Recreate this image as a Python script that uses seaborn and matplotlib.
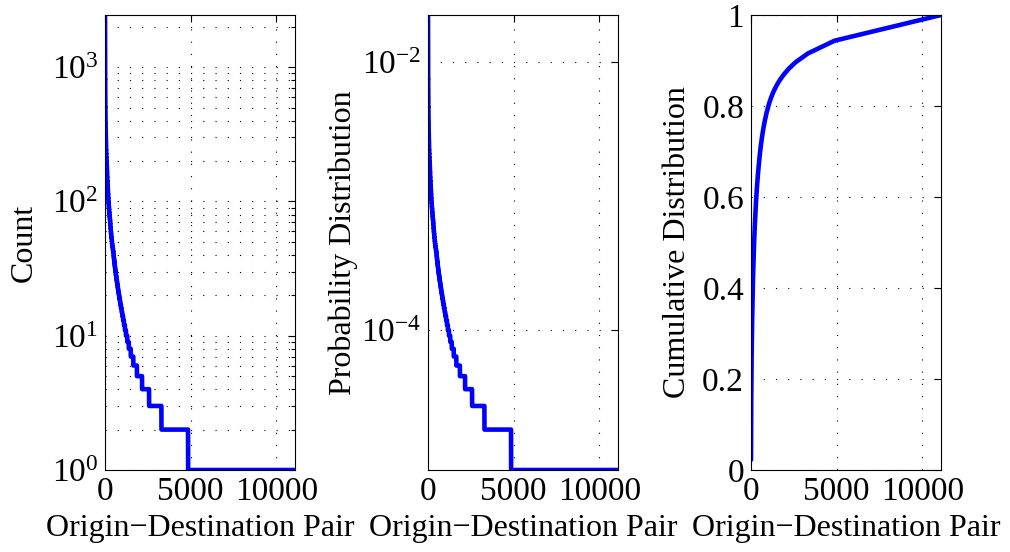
import numpy as np
import pandas as pd
import matplotlib
matplotlib.use("Agg")
import matplotlib.pyplot as plt
import matplotlib.ticker as mticker
import seaborn as sns

# ---- data: histogram of trip counts per OD pair ----
COUNT_LEVELS = [
    2450, 1900, 1600, 1400, 1250, 1150, 1050, 980, 920, 860,
    800, 720, 650, 590, 540,
    500, 450, 410, 380, 350,
    320, 300, 280, 260, 240,
    225, 210, 195,
    180, 165, 150, 140,
    130, 120, 112, 105,
    98, 92, 87, 82, 78, 74,
    72, 68, 64, 60, 57, 54, 51, 48, 46, 44, 42,
    40, 39, 38, 37, 36, 35, 34, 33, 32, 31,
    30, 29, 28, 27, 26, 25, 24, 23, 22, 21,
    20, 19, 18, 17, 16, 15, 14, 13, 12, 11,
    10, 9, 8, 7, 6, 5, 4, 3, 2, 1,
]
PAIRS_PER_LEVEL = [
    1, 1, 1, 1, 1, 1, 1, 1, 1, 1,
    2, 2, 2, 2, 2,
    4, 4, 4, 4, 4,
    6, 6, 6, 6, 6,
    10, 10, 10,
    12, 12, 13, 13,
    12, 12, 13, 13,
    15, 15, 15, 15, 15, 15,
    12, 14, 15, 17, 18, 19, 20, 22, 22, 23, 23,
    9, 9, 10, 10, 11, 11, 12, 12, 13, 14,
    15, 16, 17, 18, 19, 20, 21, 22, 24, 26,
    28, 30, 32, 35, 38, 41, 45, 50, 55, 62,
    75, 90, 115, 150, 210, 300, 410, 720, 1556, 6244,
]
X_TICKS = [0, 5000, 10000]
COUNT_YTICKS = [1, 10, 100, 1000]
PROB_YTICKS = [1e-4, 1e-2]
CDF_YTICKS = [0, 0.2, 0.4, 0.6, 0.8, 1.0]
X_LABEL = "Origin\u2212Destination Pair"
Y_LABELS = ["Count", "Probability Distribution", "Cumulative Distribution"]

counts = np.repeat(COUNT_LEVELS, PAIRS_PER_LEVEL).astype(float)
rank = np.arange(1, len(counts) + 1)
total = counts.sum()
df = pd.DataFrame({
    "rank": rank,
    "count": counts,
    "prob": counts / total,
    "cdf": np.cumsum(counts) / total,
})

sns.set_theme(style="white")
plt.rcParams["font.family"] = ["Liberation Serif", "DejaVu Serif"]
plt.rcParams["mathtext.fontset"] = "custom"
plt.rcParams["mathtext.rm"] = "Liberation Serif"
plt.rcParams["mathtext.it"] = "Liberation Serif:italic"
for k in ["text.color", "axes.labelcolor", "xtick.color", "ytick.color", "axes.edgecolor"]:
    plt.rcParams[k] = "black"
plt.rcParams["axes.linewidth"] = 0.8

fig = plt.figure(figsize=(10.10, 5.52), dpi=100)
W, H = 1010.0, 552.0
lefts = [105, 428, 751]
axes = [fig.add_axes([l / W, 82 / H, 190 / W, 455 / H]) for l in lefts]
ylabel_x = [-0.35, -0.37, -0.31]

grid_kw = dict(color="black", linewidth=0.8, linestyle=(0, (1, 10)))
line_kw = dict(color="#0000ff", linewidth=3.3, estimator=None, legend=False)
FS = 24
LFS = 23

for ax, ycol, ylab, lx in zip(axes, ["count", "prob", "cdf"], Y_LABELS, ylabel_x):
    sns.lineplot(data=df, x="rank", y=ycol, ax=ax, **line_kw)
    ax.set_xlim(0, len(counts))
    ax.set_xticks(X_TICKS)
    ax.xaxis.set_major_formatter(mticker.FuncFormatter(lambda v, p: f"{int(v)}"))
    ax.set_xlabel(X_LABEL, fontsize=LFS, labelpad=5)
    ax.set_ylabel(ylab, fontsize=LFS)
    ax.yaxis.set_label_coords(lx, 0.5)
    ax.tick_params(which="both", direction="in", top=True, right=True,
                   labelsize=FS, width=0.8, color="black")
    ax.tick_params(which="major", length=5, pad=5)
    ax.tick_params(which="minor", length=3)
    for s in ax.spines.values():
        s.set_color("black")
        s.set_linewidth(0.8)
    ax.set_axisbelow(True)

# Count panel
ax = axes[0]
ax.set_yscale("log")
ax.set_ylim(1, df["count"].max())
ax.yaxis.set_major_locator(mticker.FixedLocator(COUNT_YTICKS))
ax.yaxis.set_minor_locator(mticker.LogLocator(base=10, subs=np.arange(2, 10), numticks=20))
ax.yaxis.set_major_formatter(mticker.LogFormatterMathtext())
ax.yaxis.set_minor_formatter(mticker.NullFormatter())
ax.xaxis.grid(True, which="major", **grid_kw)
ax.yaxis.grid(True, which="major", **grid_kw)
ax.yaxis.grid(True, which="minor", **grid_kw)

# Probability panel
ax = axes[1]
ax.set_yscale("log")
ax.set_ylim(df["prob"].min(), df["prob"].max())
ax.yaxis.set_major_locator(mticker.FixedLocator(PROB_YTICKS))
ax.yaxis.set_minor_locator(mticker.NullLocator())
ax.yaxis.set_major_formatter(mticker.LogFormatterMathtext())
ax.grid(True, which="major", **grid_kw)

# CDF panel
ax = axes[2]
ax.set_ylim(0, 1)
ax.set_yticks(CDF_YTICKS)
ax.yaxis.set_major_formatter(mticker.FuncFormatter(lambda v, p: "0" if v == 0 else ("1" if v == 1 else f"{v:.1f}")))
ax.grid(True, which="major", **grid_kw)

fig.savefig("out.png", dpi=100)
